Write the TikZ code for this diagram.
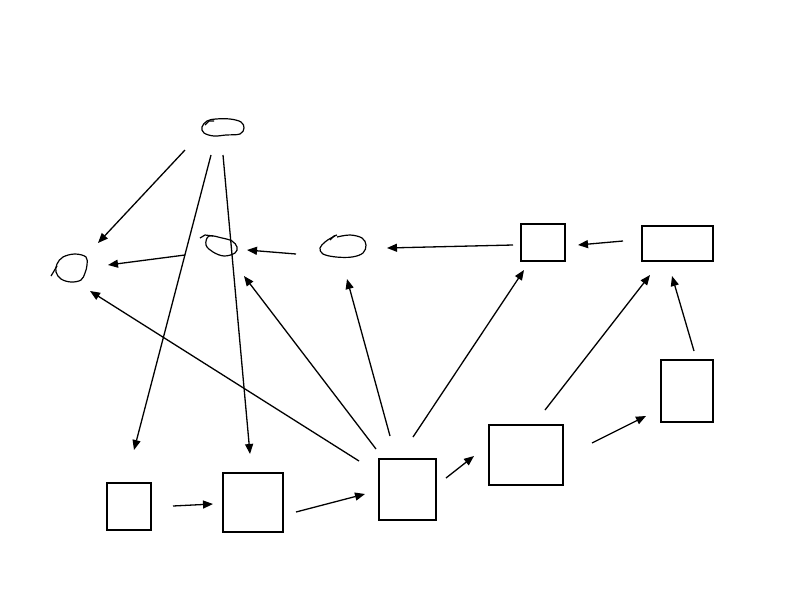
\documentclass[tikz,border=0pt]{standalone}
\usetikzlibrary{arrows.meta}
\begin{document}
\begin{tikzpicture}[x=1pt,y=-1pt,
  box/.style={draw,line width=1.3pt,inner sep=0pt},
  blob/.style={draw,line width=1.2pt,line join=round},
  conn/.style={line width=1.3pt,-{Triangle[length=10pt,width=8pt]}}]
\useasboundingbox (0,0) rectangle (800,600);
\fill[white] (0,0) rectangle (800,600);
% boxes
\draw[box] (107,483) rectangle (151,530); \coordinate (b1) at (129,506);
\draw[box] (223,473) rectangle (283,532); \coordinate (b2) at (253,502);
\draw[box] (379,459) rectangle (436,520); \coordinate (b3) at (407,489);
\draw[box] (489,425) rectangle (563,485); \coordinate (b4) at (526,455);
\draw[box] (661,360) rectangle (713,422); \coordinate (b5) at (687,391);
\draw[box] (521,224) rectangle (565,261); \coordinate (b6) at (543,242);
\draw[box] (642,226) rectangle (713,261); \coordinate (b7) at (677,243);
% blobs
\draw[blob] plot[smooth cycle,tension=0.6] coordinates {(207,121) (216,119) (230,119) (241,122) (244,128) (240,134) (226,135) (214,136) (204,133) (202,127)};
\draw[blob] (205,125) -- (209,121) -- (214,121);
\draw[blob] plot[smooth cycle,tension=0.6] coordinates {(63,257) (75,254) (86,257) (87,265) (85,273) (81,280) (71,282) (61,279) (56,272) (57,264)};
\draw[blob] (57,266) -- (54,271) -- (51,276);
\draw[blob] plot[smooth cycle,tension=0.6] coordinates {(209,236) (222,238) (232,241) (237,247) (235,253) (224,256) (213,252) (206,245)};
\draw[blob] (200,238) -- (205,235) -- (213,236);
\draw[blob] plot[smooth,tension=0.6] coordinates {(337,237) (350,235) (362,238) (366,245) (363,253) (352,257) (336,257) (323,254) (320,248) (325,242) (331,238) (335,236)};
\draw[blob] (330,240) -- (334,236) -- (337,235);
% connector endpoints
\coordinate (c1s) at (185,150); \coordinate (c1e) at (98,243);
\coordinate (c2s) at (211,155); \coordinate (c2e) at (134,450);
\coordinate (c3s) at (223,155); \coordinate (c3e) at (250,454);
\coordinate (c4s) at (185,255); \coordinate (c4e) at (108,265);
\coordinate (c5s) at (296,254); \coordinate (c5e) at (247,250);
\coordinate (c6s) at (513,245); \coordinate (c6e) at (387,248);
\coordinate (c7s) at (623,241); \coordinate (c7e) at (578,245);
\coordinate (c8s) at (694,351); \coordinate (c8e) at (672,276);
\coordinate (c9s) at (545,410); \coordinate (c9e) at (650,275);
\coordinate (c10s) at (592,443); \coordinate (c10e) at (646,416);
\coordinate (c11s) at (446,478); \coordinate (c11e) at (474,456);
\coordinate (c12s) at (413,437); \coordinate (c12e) at (524,270);
\coordinate (c13s) at (390,436); \coordinate (c13e) at (347,279);
\coordinate (c14s) at (376,449); \coordinate (c14e) at (244,276);
\coordinate (c15s) at (359,461); \coordinate (c15e) at (90,291);
\coordinate (c16s) at (296,512); \coordinate (c16e) at (365,494);
\coordinate (c17s) at (173,506); \coordinate (c17e) at (213,504);
\foreach \i in {1,...,17} { \draw[conn] (c\i s) -- (c\i e); }
\end{tikzpicture}
\end{document}
